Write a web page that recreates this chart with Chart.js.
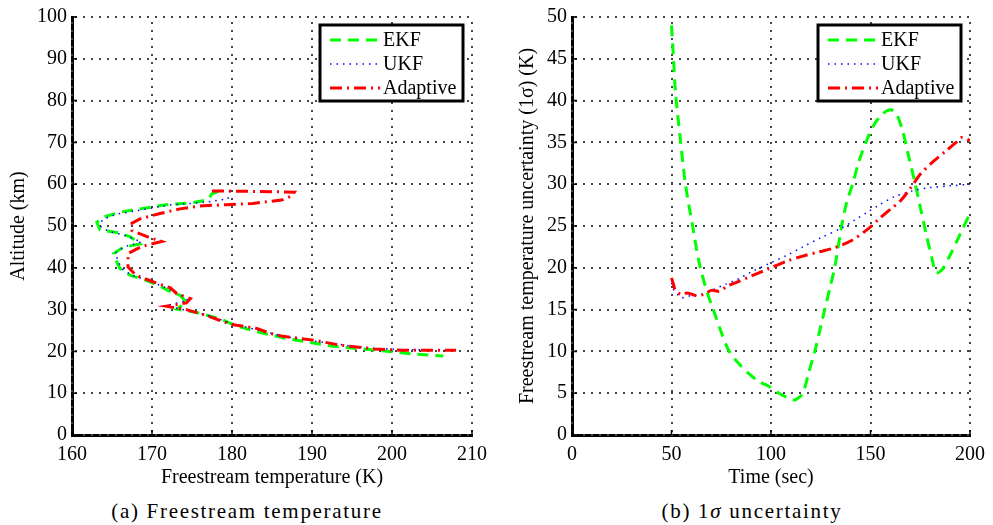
<!DOCTYPE html>
<html>
<head>
<meta charset="utf-8">
<script src="https://cdn.jsdelivr.net/npm/chart.js@4"></script>
<style>
  body { margin: 0; background: #fff; width: 993px; height: 525px; position: relative; overflow: hidden; font-family: "Liberation Serif", serif; }
  canvas { position: absolute; top: 0; }
  #tempChart { left: 0; }
  #sigmaChart { left: 496px; }
  .caption { position: absolute; top: 499px; width: 400px; text-align: center; font-size: 21px; letter-spacing: 1.7px; }
</style>
</head>
<body>
<canvas id="tempChart" width="496" height="490"></canvas>
<canvas id="sigmaChart" width="497" height="490"></canvas>
<div class="caption" style="left:47px">(a) Freestream temperature</div>
<div class="caption" style="left:552px">(b) 1<i>σ</i> uncertainty</div>
<script>
// (a) freestream temperature (K) vs altitude (km)
const ekfTemp = [178.3, 177.5, 177, 175.2, 171.8, 168.5, 166, 163.9, 163.1, 163.5, 166, 167.3, 168.5, 166.4, 165.2, 165.6, 166, 167.3, 169.3, 170.8, 172, 173.5, 174.3, 173.1, 175.6, 178.5, 180.4, 183.1, 186.8, 192.7, 196.8, 200.2, 203.1, 206.4];
const ekfAlt  = [58.3, 57.7, 56.3, 55.6, 55.1, 54.1, 53.3, 52.1, 50.9, 49.1, 48.3, 47.4, 45.7, 44.9, 43.4, 41.4, 39.8, 38.2, 37, 35.8, 34.6, 33.4, 31.8, 30.1, 29.3, 27.8, 26.2, 24.7, 23.1, 21.2, 20.5, 19.9, 19.3, 18.9];

const ukfTemp = [179.7, 179.5, 177, 175, 172, 168.5, 165.5, 163.8, 163.5, 164.5, 166.5, 168.7, 166.5, 165.4, 165.8, 166.2, 167.5, 169.5, 171, 172.5, 174, 174.5, 171.5, 174.5, 177, 179.5, 183, 186.5, 190.5, 194.5, 198, 202, 207.2];
const ukfAlt  = [58.4, 56.5, 55.8, 55.4, 55, 53.8, 52.8, 51.5, 50, 48.8, 47.8, 46.2, 45, 43.5, 41.5, 39.8, 38.2, 37, 35.8, 34.6, 33.2, 32.2, 30.8, 29.8, 28.6, 27, 25.2, 23.6, 22.4, 21.4, 20.7, 20.4, 20.3];

const adaptiveTemp = [177.5, 182, 187.8, 187.5, 186.2, 182.6, 179.3, 176, 173.5, 171, 168.5, 167.5, 167.5, 169.3, 171.2, 168.7, 167, 167, 168, 170.2, 172.3, 173.1, 174.8, 174.3, 171.8, 174.3, 176.8, 179.8, 183.1, 184.8, 186.4, 190.2, 193.5, 197.7, 201, 208];
const adaptiveAlt  = [58.4, 58.3, 58.1, 57.2, 56.2, 55.4, 55.1, 54.8, 54.1, 53, 51.7, 50.7, 48.9, 47.5, 46.3, 45.1, 43.4, 40.2, 38.2, 36.6, 35.2, 33.8, 32.6, 31.6, 30.8, 30, 28.6, 26.5, 25.5, 24.3, 23.6, 22.7, 21.5, 20.6, 20.3, 20.3];

// (b) 1-sigma uncertainty (K) vs time (sec)
const ekfTime  = [50, 51, 52, 54.6, 57, 60.6, 64, 68, 71, 75, 79, 84, 89, 94, 99, 104, 108, 111, 113, 116, 119, 122, 125, 127, 130, 132, 135.5, 138, 141, 144, 148, 152, 156, 160, 163, 166, 169, 172, 175, 178, 181, 183, 186, 190, 195, 200];
const ekfSigma = [49, 45, 41, 35, 30, 25, 20.5, 17, 15, 12.3, 10, 8.5, 7.3, 6.4, 5.8, 5, 4.5, 4.2, 4.3, 5, 7.5, 10, 13, 15, 18, 20, 25, 27.8, 30, 32.6, 35.2, 37.2, 38.4, 38.9, 38.4, 36.5, 33.5, 30.5, 27.3, 24, 21, 19.4, 19.8, 21.5, 24, 26.5];

const ukfTime  = [50, 51, 53, 55, 58, 62, 66, 71, 77, 83, 90, 99, 108, 116, 125, 135, 142, 148, 155, 162, 171, 180, 190, 200];
const ukfSigma = [18.2, 17.4, 16.8, 16.4, 16.6, 16.7, 16.9, 17.4, 18, 18.6, 19.5, 20.5, 21.5, 22.5, 23.6, 24.7, 25.7, 26.6, 27.6, 28.5, 29.2, 29.6, 29.8, 30];

const adaptiveTime  = [50, 51, 52, 55, 58, 62, 66, 70, 74, 78, 83, 90, 99, 108, 116, 124, 132, 140, 148, 155, 160, 165, 170, 175, 181, 188, 193, 196, 200];
const adaptiveSigma = [18.8, 18, 17.3, 16.8, 17, 16.7, 16.8, 17.3, 17.2, 17.8, 18.3, 19, 19.9, 20.8, 21.4, 21.9, 22.4, 23.2, 24.5, 26, 27, 28, 29.5, 31.2, 32.6, 34, 35, 35.6, 35.2];

// tick labels
const tempTicks  = [160, 170, 180, 190, 200, 210];
const altTicks   = [0, 10, 20, 30, 40, 50, 60, 70, 80, 90, 100];
const timeTicks  = [0, 50, 100, 150, 200];
const sigmaTicks = [0, 5, 10, 15, 20, 25, 30, 35, 40, 45, 50];

const seriesNames = ['EKF', 'UKF', 'Adaptive'];

Chart.defaults.font.family = "'Liberation Serif', serif";
Chart.defaults.font.size = 20;
Chart.defaults.color = '#000';

function points(xs, ys) {
    return xs.map((x, i) => ({ x: x, y: ys[i] }));
}

function makeDatasets(pairs, smooth) {
    const styles = [
        { borderColor: '#00ff00', borderWidth: 3, borderDash: [11, 7], order: 3 },
        { borderColor: '#0000ff', borderWidth: 1.5, borderDash: [1.5, 5], order: 2 },
        { borderColor: '#ff0000', borderWidth: 3, borderDash: [12, 5, 2, 5], order: 1 }
    ];
    return pairs.map((p, i) => Object.assign({
        label: seriesNames[i],
        data: points(p[0], p[1]),
        showLine: true,
        pointRadius: 0,
        fill: false,
        tension: smooth ? 0.3 : 0
    }, styles[i]));
}

function axes(xTicks, yTicks, xTitle, yTitle, yWidth, yTitlePad) {
    return {
        x: {
            type: 'linear',
            min: xTicks[0],
            max: xTicks[xTicks.length - 1],
            afterBuildTicks: s => { s.ticks = xTicks.map(v => ({ value: v })); },
            afterFit: s => { s.height = 55; },
            grid: { display: false, drawTicks: false },
            border: { color: '#000', width: 3 },
            ticks: { padding: 8, maxRotation: 0, autoSkip: false },
            title: { display: true, text: xTitle, padding: { top: 0, bottom: 0 } }
        },
        y: {
            type: 'linear',
            min: yTicks[0],
            max: yTicks[yTicks.length - 1],
            afterBuildTicks: s => { s.ticks = yTicks.map(v => ({ value: v })); },
            afterFit: s => { s.width = yWidth; },
            grid: { display: false, drawTicks: false },
            border: { color: '#000', width: 3 },
            ticks: { padding: 5, autoSkip: false },
            title: { display: true, text: yTitle, padding: { top: yTitlePad, bottom: 0 } }
        }
    };
}

// dotted matlab-style grid at every tick of both scales
const dottedGrid = {
    id: 'dottedGrid',
    beforeDatasetsDraw(chart) {
        const { ctx, chartArea, scales } = chart;
        ctx.save();
        ctx.fillStyle = '#444';
        scales.x.ticks.forEach(t => {
            const px = Math.round(scales.x.getPixelForValue(t.value));
            for (let py = chartArea.bottom - 4; py > chartArea.top; py -= 8) {
                ctx.fillRect(px - 1, Math.round(py) - 1, 2, 2);
            }
        });
        scales.y.ticks.forEach(t => {
            const py = Math.round(scales.y.getPixelForValue(t.value));
            for (let px = chartArea.left + 4; px < chartArea.right; px += 8) {
                ctx.fillRect(Math.round(px) - 1, py - 1, 2, 2);
            }
        });
        ctx.restore();
    }
};

// boxed legend inside the top right corner, like the matlab one
const boxLegend = {
    id: 'boxLegend',
    afterDatasetsDraw(chart) {
        const { ctx, chartArea } = chart;
        const w = 143, h = 76;
        const x = chartArea.right - 9 - w;
        const y = chartArea.top + 8;
        ctx.save();
        ctx.fillStyle = '#fff';
        ctx.fillRect(x, y, w, h);
        ctx.lineWidth = 3;
        ctx.strokeStyle = '#000';
        ctx.strokeRect(x, y, w, h);
        ctx.font = "20px 'Liberation Serif'";
        ctx.textBaseline = 'middle';
        chart.data.datasets.forEach((ds, i) => {
            const ly = y + 15 + i * 24;
            ctx.beginPath();
            ctx.setLineDash(ds.borderDash);
            ctx.lineWidth = ds.borderWidth;
            ctx.strokeStyle = ds.borderColor;
            ctx.moveTo(x + 10, ly);
            ctx.lineTo(x + 60, ly);
            ctx.stroke();
            ctx.setLineDash([]);
            ctx.fillStyle = '#000';
            ctx.fillText(ds.label, x + 63, ly + 1);
        });
        ctx.restore();
    }
};

// small inward tick marks on the left and bottom axes
const innerTicks = {
    id: 'innerTicks',
    afterDraw(chart) {
        const { ctx, chartArea, scales } = chart;
        ctx.save();
        ctx.strokeStyle = '#000';
        ctx.lineWidth = 1.5;
        ctx.beginPath();
        scales.x.ticks.forEach(t => {
            const px = scales.x.getPixelForValue(t.value);
            ctx.moveTo(px, chartArea.bottom);
            ctx.lineTo(px, chartArea.bottom - 5);
        });
        scales.y.ticks.forEach(t => {
            const py = scales.y.getPixelForValue(t.value);
            ctx.moveTo(chartArea.left, py);
            ctx.lineTo(chartArea.left + 5, py);
        });
        ctx.stroke();
        ctx.restore();
    }
};

new Chart(document.getElementById('tempChart'), {
    type: 'scatter',
    data: {
        datasets: makeDatasets([[ekfTemp, ekfAlt], [ukfTemp, ukfAlt], [adaptiveTemp, adaptiveAlt]], false)
    },
    options: {
        responsive: false,
        animation: false,
        layout: { padding: { left: 0, top: 16, right: 24, bottom: 0 } },
        plugins: { legend: { display: false }, tooltip: { enabled: false } },
        scales: axes(tempTicks, altTicks, 'Freestream temperature (K)', 'Altitude (km)', 72, 7)
    },
    plugins: [dottedGrid, boxLegend, innerTicks]
});

new Chart(document.getElementById('sigmaChart'), {
    type: 'scatter',
    data: {
        datasets: makeDatasets([[ekfTime, ekfSigma], [ukfTime, ukfSigma], [adaptiveTime, adaptiveSigma]], true)
    },
    options: {
        responsive: false,
        animation: false,
        layout: { padding: { left: 0, top: 16, right: 15, bottom: 0 } },
        plugins: { legend: { display: false }, tooltip: { enabled: false } },
        scales: axes(timeTicks, sigmaTicks, 'Time (sec)', 'Freestream temperature uncertainty (1σ) (K)', 76, 20)
    },
    plugins: [dottedGrid, boxLegend, innerTicks]
});
</script>
</body>
</html>
